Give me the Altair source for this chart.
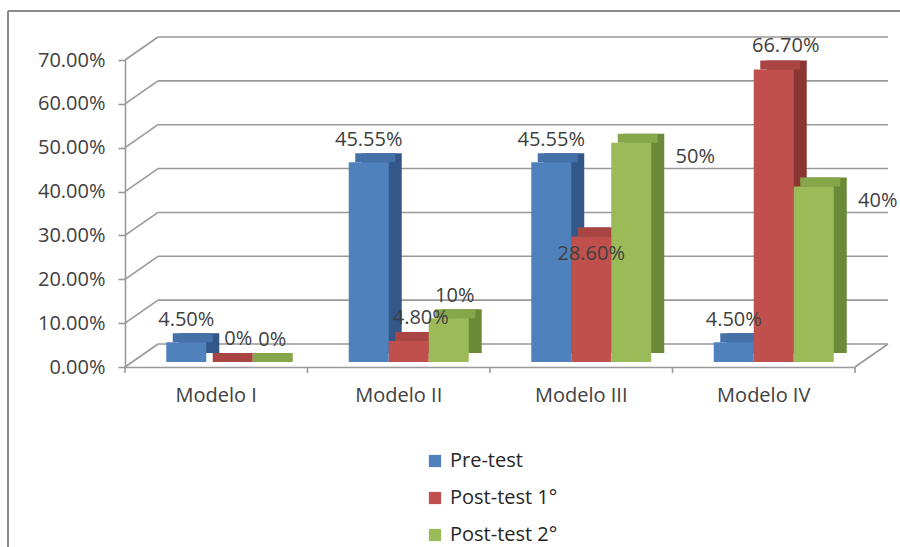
import altair as alt
import pandas as pd

# ---------------- data ----------------
categories = ["Modelo I", "Modelo II", "Modelo III", "Modelo IV"]
series = ["Pre-test", "Post-test 1°", "Post-test 2°"]
pre_test = [0.045, 0.4555, 0.4555, 0.045]
post_test_1 = [0.0, 0.048, 0.286, 0.667]
post_test_2 = [0.0, 0.10, 0.50, 0.40]
pre_labels = ["4.50%", "45.55%", "45.55%", "4.50%"]
post1_labels = ["0%", "4.80%", "28.60%", "66.70%"]
post2_labels = ["0%", "10%", "50%", "40%"]
y_ticks = [0.0, 0.1, 0.2, 0.3, 0.4, 0.5, 0.6, 0.7]

# ---------------- styles ----------------
front_colors = ["#4F81BD", "#C0504D", "#9BBB59"]
top_colors = ["#4472A8", "#A84542", "#86A64A"]
side_colors = ["#34578A", "#8A3532", "#6A8A38"]
FONT = "Open Sans"
FS = 20
TXT = "#404040"
GRID = "#999999"

W, H = 892, 536          # frame (view) size
X0, X1 = 117, 847        # front floor extent
Y0, Y1 = 356, 49         # y range (0 -> 0.7)
DX, DY = 33, 23          # depth of the back wall
BAR_W = 40
SHIFT_X, LIFT_Y = 10, -5  # bar placement inside the 3D box
FACE_DX, FACE_DY = 13, -9  # bar depth

rows = []
for s, vals, labs in zip(series, [pre_test, post_test_1, post_test_2],
                         [pre_labels, post1_labels, post2_labels]):
    for c, v, l in zip(categories, vals, labs):
        rows.append({"cat": c, "serie": s, "value": v, "label": l})
df = pd.DataFrame(rows)
ticks_df = pd.DataFrame({"v": y_ticks})
zero_df = pd.DataFrame({"v": [0.0]})
cat_df = pd.DataFrame({"cat": categories, "v": [0.0] * len(categories)})
last_df = pd.DataFrame({"cat": categories[-1:], "v": [0.0]})

x_scale = alt.Scale(type="band", domain=categories, range=[X0, X1],
                    paddingInner=0, paddingOuter=0)
y_scale = alt.Scale(domain=[0, 0.7], range=[Y0, Y1], nice=False, zero=True)

x_axis = alt.Axis(orient="bottom", offset=-(H - Y0), title=None, ticks=False,
                  labelAngle=0, labelFont=FONT, labelFontSize=FS, labelColor=TXT,
                  labelPadding=18, domainColor=GRID, domainWidth=1.6, grid=False)
y_axis = alt.Axis(orient="left", offset=-X0, title=None, values=y_ticks, format=".2%",
                  labelFont=FONT, labelFontSize=FS, labelColor=TXT, tickSize=7,
                  tickColor=GRID, tickWidth=1.6, labelPadding=13, domainColor=GRID,
                  domainWidth=1.6, grid=False)


def X(field="cat:N", **kw):
    return alt.X(field, scale=x_scale, axis=x_axis, **kw)


def Y(field):
    return alt.Y(field, scale=y_scale, axis=y_axis)


base = alt.Chart(df)

# frame (left and top edges of the chart area)
frame_left = alt.Chart(zero_df).mark_rule(color="#8a8a8a", strokeWidth=2).encode(
    x=alt.value(0), y=alt.value(0), y2=alt.value(H))
frame_top = alt.Chart(zero_df).mark_rule(color="#8a8a8a", strokeWidth=2).encode(
    x=alt.value(0), x2=alt.value(W), y=alt.value(0))

# back wall gridlines
back_grid = alt.Chart(ticks_df).mark_rule(color=GRID, strokeWidth=1.6, yOffset=-DY).encode(
    y=Y("v:Q"), x=alt.value(X0 + DX), x2=alt.value(X1 + DX))
# side wall diagonals
side_wall = alt.Chart(ticks_df).mark_rule(color=GRID, strokeWidth=1.6, y2Offset=-DY).encode(
    y=Y("v:Q"), y2=alt.Y2("v:Q"), x=alt.value(X0), x2=alt.value(X0 + DX))
floor_right = alt.Chart(zero_df).mark_rule(color=GRID, strokeWidth=1.6, y2Offset=-DY).encode(
    y=Y("v:Q"), y2=alt.Y2("v:Q"), x=alt.value(X1), x2=alt.value(X1 + DX))
# category ticks on the floor edge
cat_ticks = alt.Chart(cat_df).mark_rule(color=GRID, strokeWidth=1.6, y2Offset=6).encode(
    x=X(bandPosition=0), y=Y("v:Q"), y2=alt.Y2("v:Q"))
last_tick = alt.Chart(last_df).mark_rule(color=GRID, strokeWidth=1.6, y2Offset=6).encode(
    x=X(bandPosition=1), y=Y("v:Q"), y2=alt.Y2("v:Q"))

legend = alt.Legend(orient="none", legendX=417, legendY=440, direction="vertical",
                    title=None, symbolType="square", symbolSize=150, symbolStrokeWidth=0,
                    labelFont=FONT, labelFontSize=FS, labelColor="#262626",
                    rowPadding=17, labelOffset=5)

bar_layers = []
for i, s in enumerate(series):
    off = (i - 1) * BAR_W + SHIFT_X
    sub = base.transform_filter(alt.datum.serie == s)
    side = sub.mark_bar(width=BAR_W, xOffset=off + FACE_DX, yOffset=LIFT_Y + FACE_DY,
                        y2Offset=LIFT_Y + FACE_DY, color=side_colors[i]).encode(
        x=X(), y=Y("value:Q"))
    top = sub.mark_bar(width=BAR_W, xOffset=off + FACE_DX / 2, yOffset=LIFT_Y + FACE_DY,
                       y2Offset=LIFT_Y, color=top_colors[i]).encode(
        x=X(), y=Y("value:Q"), y2=alt.Y2("value:Q"))
    front = sub.mark_bar(width=BAR_W, xOffset=off, yOffset=LIFT_Y, y2Offset=LIFT_Y).encode(
        x=X(), y=Y("value:Q"),
        color=alt.Color("serie:N", scale=alt.Scale(domain=series, range=front_colors),
                        legend=legend))
    bar_layers += [side, top, front]


def label_layer(cond, dx, dy):
    return base.transform_filter(cond).mark_text(
        font=FONT, fontSize=FS, color=TXT, baseline="middle", align="center",
        dx=dx, dy=dy).encode(x=X(), y=Y("value:Q"), text="label:N")


s0, s1, s2 = series
labels = [
    label_layer(alt.datum.serie == s0, -BAR_W + SHIFT_X, LIFT_Y - 22),
    label_layer((alt.datum.serie == s1) & ((alt.datum.value < 0.2) | (alt.datum.value > 0.5)),
                SHIFT_X + 12, LIFT_Y - 23),
    label_layer((alt.datum.serie == s1) & (alt.datum.value >= 0.2) & (alt.datum.value <= 0.5),
                SHIFT_X, LIFT_Y + 17),
    label_layer((alt.datum.serie == s2) & (alt.datum.value < 0.3),
                BAR_W + SHIFT_X + 6, LIFT_Y - 22),
    label_layer((alt.datum.serie == s2) & (alt.datum.value >= 0.3),
                BAR_W + SHIFT_X + 64, LIFT_Y + 14),
]

chart = alt.layer(
    frame_left, frame_top, back_grid, side_wall, floor_right, cat_ticks, last_tick,
    *bar_layers, *labels
).properties(
    width=W, height=H,
    padding={"left": 8, "top": 11, "right": 0, "bottom": 0},
    autosize="none",
    background="white",
).configure_view(strokeWidth=0)

chart.save("out.html", embed_options={"renderer": "svg", "actions": False})
